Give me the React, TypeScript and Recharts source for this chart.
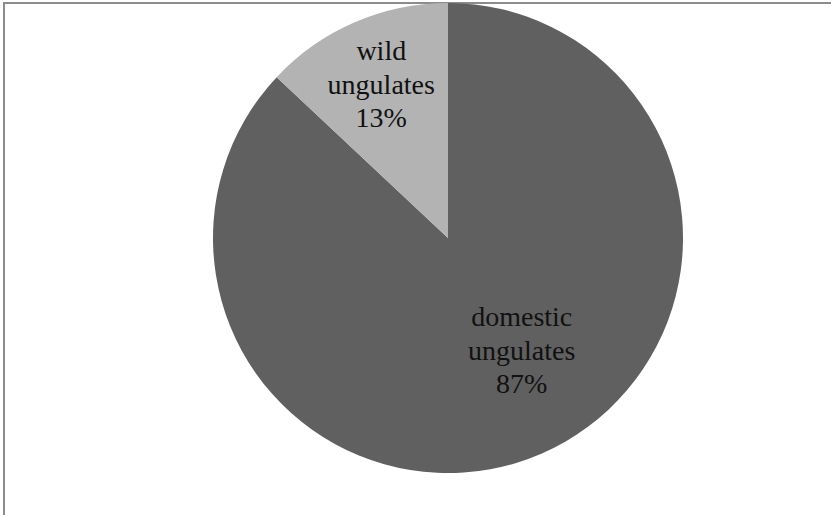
import { PieChart, Pie, Cell } from "recharts";

const CATEGORIES = ["domestic ungulates", "wild ungulates"];
const SHARES = [87, 13];
const COLORS = ["#606060", "#b3b3b3"];

const data = CATEGORIES.map((name, i) => ({ name, value: SHARES[i] }));

const RADIAN = Math.PI / 180;
const SERIF = "'Liberation Serif', 'Times New Roman', Times, serif";

// Excel "best fit" placement, roughly: how far out and how much to turn each label
const LABEL_RADIUS = [0.57, 0.715];
const LABEL_TURN = [10, 0];

const renderLabel = (props: {
  cx?: number;
  cy?: number;
  midAngle?: number;
  outerRadius?: number;
  index?: number;
  percent?: number;
}) => {
  const { cx = 0, cy = 0, midAngle = 0, outerRadius = 0, index = 0, percent = 0 } = props;
  const r = outerRadius * LABEL_RADIUS[index];
  const a = (midAngle + LABEL_TURN[index]) * RADIAN;
  const x = cx + r * Math.cos(a);
  const y = cy - r * Math.sin(a);
  const words = CATEGORIES[index].split(" ");
  const lines = [...words, `${Math.round(percent * 100)}%`];
  const lh = 33.5;
  const top = y - ((lines.length - 1) * lh) / 2;
  return (
    <text
      x={x}
      y={top}
      fill="#111"
      textAnchor="middle"
      dominantBaseline="central"
      fontFamily={SERIF}
      fontSize={28}
      style={{ fontFamily: SERIF, fontSize: 28 }}
    >
      {lines.map((l, i) => (
        <tspan key={i} x={x} y={top + i * lh} style={{ fontFamily: SERIF }}>
          {l}
        </tspan>
      ))}
    </text>
  );
};

export default function App() {
  return (
    <div
      style={{
        position: "absolute",
        left: 0,
        top: 0,
        width: 831,
        height: 515,
        background: "#fff",
        overflow: "hidden",
        fontFamily: SERIF,
      }}
    >
      <div
        style={{
          position: "absolute",
          left: 3,
          top: 2,
          width: 900,
          height: 600,
          borderTop: "2px solid #8c8c8c",
          borderLeft: "2.5px solid #8c8c8c",
        }}
      />
      <PieChart
        width={831}
        height={515}
        margin={{ top: 0, right: 0, bottom: 0, left: 0 }}
        style={{ position: "absolute", left: 0, top: 0 }}
      >
        <Pie
          data={data}
          dataKey="value"
          nameKey="name"
          cx={448}
          cy={238}
          outerRadius={235}
          startAngle={90}
          endAngle={-270}
          stroke="none"
          label={renderLabel}
          labelLine={false}
          isAnimationActive={false}
        >
          {data.map((_, i) => (
            <Cell key={`cell-${i}`} fill={COLORS[i]} />
          ))}
        </Pie>
      </PieChart>
    </div>
  );
}
